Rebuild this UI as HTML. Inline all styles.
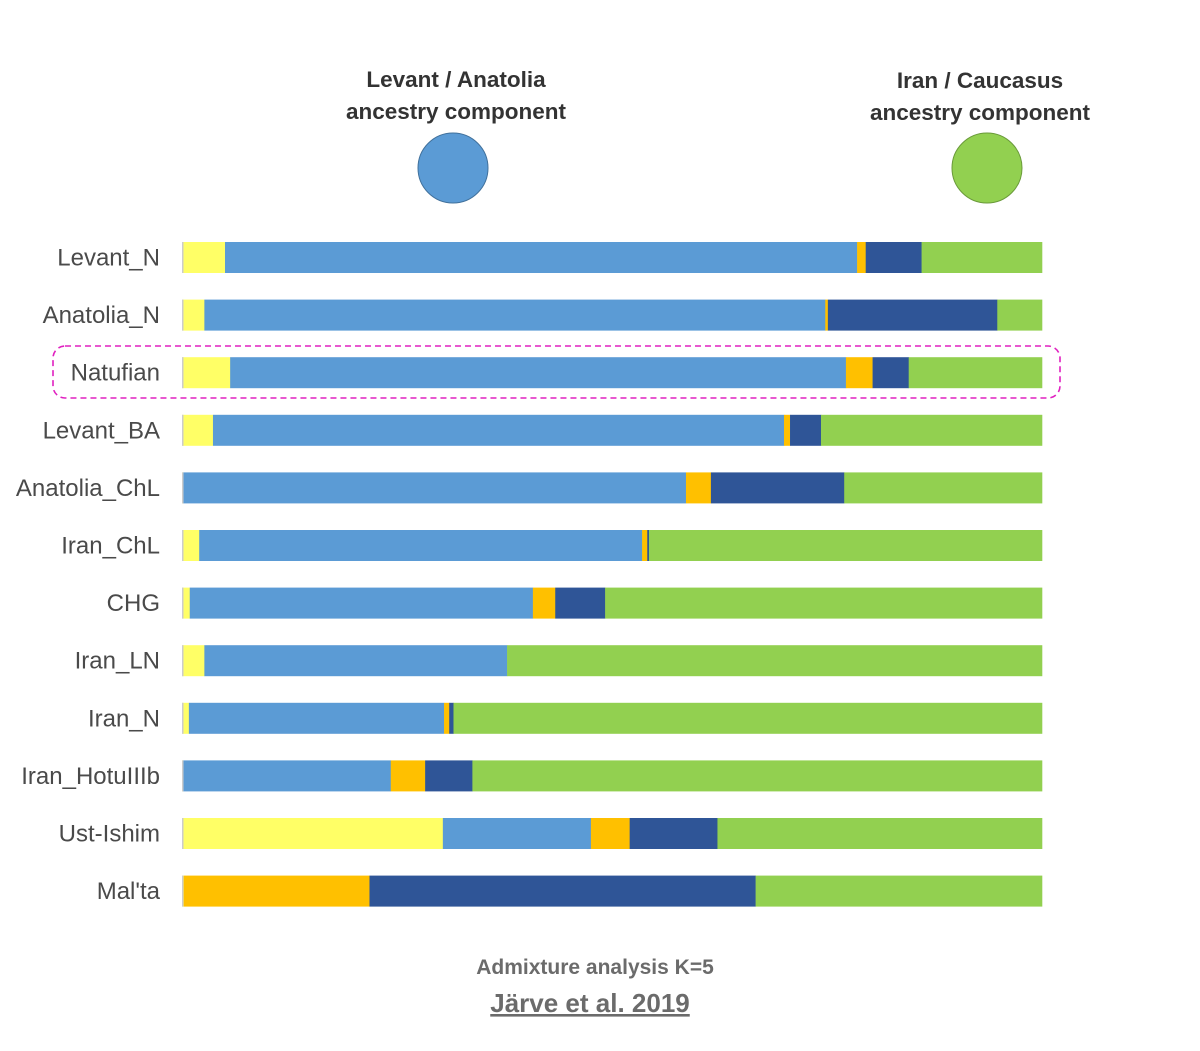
<!DOCTYPE html>
<html><head><meta charset="utf-8"><style>
body{margin:0;background:#fff;width:1200px;height:1046px;overflow:hidden;font-family:"Liberation Sans",sans-serif}
</style></head><body>
<svg id="chart" width="1200" height="1046" xmlns="http://www.w3.org/2000/svg">
<g font-weight="bold" font-size="22.5" fill="#333" text-anchor="middle">
<text x="456" y="87">Levant / Anatolia</text>
<text x="456" y="119">ancestry component</text>
</g>
<circle cx="453" cy="168" r="35" fill="#5B9BD5" stroke="#41719C" stroke-width="1"/>
<g font-weight="bold" font-size="22.5" fill="#333" text-anchor="middle">
<text x="980" y="88">Iran / Caucasus</text>
<text x="980" y="120">ancestry component</text>
</g>
<circle cx="987" cy="168" r="35" fill="#92D050" stroke="#6a9a3a" stroke-width="1"/>
<rect x="53" y="346" width="1007" height="52" rx="12" fill="none" stroke="#E020C0" stroke-width="1.6" stroke-dasharray="6,4"/>
<g id="bars"></g>
<text x="595" y="974" text-anchor="middle" font-weight="bold" font-size="21" fill="#6b6b6b">Admixture analysis K=5</text>
<text x="590" y="1012" text-anchor="middle" font-weight="bold" font-size="26" fill="#6b6b6b" text-decoration="underline">Järve et al. 2019</text>
</svg>
<script>
const populations=["Levant_N","Anatolia_N","Natufian","Levant_BA","Anatolia_ChL","Iran_ChL","CHG","Iran_LN","Iran_N","Iran_HotuIIIb","Ust-Ishim","Mal'ta"];
const yellowComp=[5.0,2.6,5.6,3.6,0.1,2.0,0.9,2.6,0.8,0.1,30.3,0.2];
const blueComp=[73.5,72.2,71.6,66.4,58.5,51.5,39.9,35.2,29.7,24.2,17.2,0];
const orangeComp=[1.0,0.3,3.1,0.7,2.9,0.6,2.6,0,0.6,4.0,4.5,21.6];
const darkBlueComp=[6.5,19.7,4.2,3.6,15.5,0.2,5.8,0,0.5,5.5,10.2,44.9];
const greenComp=[14.0,5.2,15.5,25.7,23.0,45.7,50.8,62.2,68.5,66.3,37.7,33.3];
const series=[["yellow",yellowComp,"#FFFF66"],["levant-blue",blueComp,"#5B9BD5"],["orange",orangeComp,"#FFC000"],["dark-blue",darkBlueComp,"#2F5597"],["green",greenComp,"#92D050"]];
const x0=182,W=860,y0=242,step=57.6,h=31;
const xs=v=>v/100*W;
const g=document.getElementById('bars');
const NS="http://www.w3.org/2000/svg";
populations.forEach((p,i)=>{
  const y=y0+i*step;
  const t=document.createElementNS(NS,'text');
  t.setAttribute('x',160);t.setAttribute('y',y+h/2+8);
  t.setAttribute('text-anchor','end');t.setAttribute('font-size','24');t.setAttribute('fill','#4a4a4a');
  t.textContent=p;
  
  
  g.appendChild(t);
  const tot=series.reduce((s,a)=>s+a[1][i],0);
  let cx=x0;
  series.forEach(([nm,arr,col])=>{
    const w=xs(arr[i]/tot*100);
    if(w<=0)return;
    const r=document.createElementNS(NS,'rect');
    r.setAttribute('x',cx);r.setAttribute('y',y);r.setAttribute('width',w+0.3);r.setAttribute('height',h);r.setAttribute('fill',col);
    
    
    g.appendChild(r);cx+=w;
  });
  const l=document.createElementNS(NS,'rect');
  l.setAttribute('x',x0);l.setAttribute('y',y);l.setAttribute('width',1.5);l.setAttribute('height',h);l.setAttribute('fill','#ccc');
  
  
  g.appendChild(l);
});
</script>
</body></html>
